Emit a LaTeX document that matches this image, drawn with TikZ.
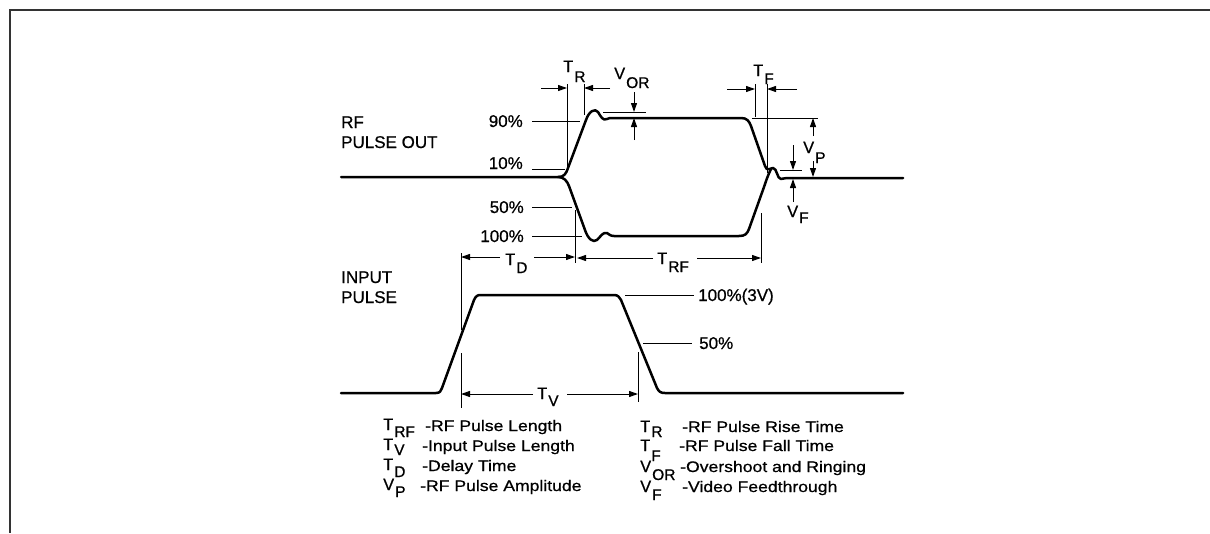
\documentclass[tikz,border=0pt]{standalone}
\usepackage{fontspec}
\setmainfont{Liberation Sans}[FakeBold=0.7]
\newfontfamily\legfont{Liberation Sans}[FakeStretch=1.15,FakeBold=0.7]
\usetikzlibrary{arrows.meta}
\newcommand\lsub[3][8]{#2\kern1pt\raisebox{-#1pt}{\fontsize{15.5}{15.5}\selectfont #3}}
\tikzset{
  frame/.style={line width=2pt, draw=black!80},
  wave/.style={line width=2.5pt, line join=round, line cap=round},
  dim/.style={line width=1pt},
  arr/.style={-{Triangle[length=9pt,width=6pt]}},
  lbl/.style={inner sep=0pt, font=\fontsize{17}{17}\selectfont},
  sym/.style={inner sep=0pt, font=\fontsize{16.5}{16.5}\selectfont},
  leg/.style={inner sep=0pt, font=\legfont\fontsize{15.3}{15.3}\selectfont},
}
\begin{document}
\begin{tikzpicture}[x=1pt,y=-1pt]
\useasboundingbox (0,0) rectangle (1210,533);
\draw[frame] (1210,10) -- (9.5,10) -- (9.5,533);

% ---------- RF pulse out ----------
\draw[wave] (341,177) -- (558,177) .. controls (564,177) and (566,174) .. (568,168)
  -- (586,120) .. controls (589,111) and (595,108) .. (598,112)
  .. controls (601,117) and (603,121) .. (607,119)
  .. controls (609,118) and (610,118) .. (613,118) -- (741,118)
  .. controls (747,118) and (749,121) .. (751,126) -- (765,166)
  .. controls (767,172) and (770,168) .. (773,168)
  .. controls (777,168) and (777,179) .. (781,179)
  .. controls (783,179) and (784,178) .. (787,178) -- (903,178);
\draw[wave] (558,177) .. controls (564,177) and (567,181) .. (569,186)
  -- (585,230) .. controls (588,239) and (593,243) .. (597,240)
  .. controls (601,236) and (603,232) .. (607,233)
  .. controls (609,234) and (610,236) .. (614,236) -- (739,236)
  .. controls (745,236) and (747,234) .. (749,229) -- (764,187)
  .. controls (766,181) and (768,175) .. (771,169);

\node[lbl, anchor=base west] (rf1) at (341,128) {RF};
\node[lbl, anchor=base west] (rf2) at (341,148) {PULSE OUT};
\node[lbl, anchor=base east] (p90) at (523,127) {90\%};
\node[lbl, anchor=base east] (p10) at (523,169) {10\%};
\node[lbl, anchor=base east] (p50) at (524,213) {50\%};
\node[lbl, anchor=base east] (p100) at (524,242) {100\%};
\coordinate (l90a) at (532,121); \coordinate (l90b) at (580,121);
\coordinate (l10a) at (532,169); \coordinate (l10b) at (565,169);
\coordinate (l50a) at (532,207); \coordinate (l50b) at (572,207);
\coordinate (l100a) at (532,236); \coordinate (l100b) at (582,236);
\draw[dim] (l90a) -- (l90b);
\draw[dim] (l10a) -- (l10b);
\draw[dim] (l50a) -- (l50b);
\draw[dim] (l100a) -- (l100b);

% T_R
\coordinate (trL) at (567,88); \coordinate (trR) at (584,88);
\draw[dim] (567,84) -- (567,167);
\draw[dim] (584,84) -- (584,115);
\draw[dim,arr] (541,88) -- (trL);
\draw[dim,arr] (610,88) -- (trR);
\node[sym, anchor=base west] (tr) at (563,72) {\lsub[10]{T}{R}};
% V_OR
\coordinate (vorT) at (634,112); \coordinate (vorB) at (634,118);
\draw[dim] (603,112) -- (646,112);
\draw[dim,arr] (634,92) -- (vorT);
\draw[dim,arr] (634,140) -- (vorB);
\node[sym, anchor=base west] (vor) at (614,79) {\lsub[9]{V}{OR}};
% T_F
\coordinate (tfL) at (755,89); \coordinate (tfR) at (767,89);
\draw[dim] (755,84) -- (755,117);
\draw[dim] (767,84) -- (767,173);
\draw[dim,arr] (727,89) -- (tfL);
\draw[dim,arr] (797,89) -- (tfR);
\node[sym, anchor=base west] (tf) at (753,76) {\lsub[8]{T}{F}};
% V_P
\draw[dim] (752,118) -- (818,118);
\coordinate (vpT) at (813,118); \coordinate (vpB) at (813,177);
\node[sym, anchor=base west] (vp) at (803,153) {\lsub[10]{V}{P}};
\draw[dim,arr] (813,136) -- (vpT);
\draw[dim,arr] (813,161) -- (vpB);
% V_F
\draw[dim] (780,170) -- (802,170);
\coordinate (vfT) at (793,170); \coordinate (vfB) at (793,179);
\draw[dim,arr] (793,145) -- (vfT);
\draw[dim,arr] (793,202) -- (vfB);
\node[sym, anchor=base west] (vf) at (787,217) {\lsub[6]{V}{F}};

% T_D and T_RF
\draw[dim] (461,253) -- (461,330);
\draw[dim] (575,210) -- (575,263);
\draw[dim] (761,213) -- (761,263);
\coordinate (tdL) at (461,257); \coordinate (tdR) at (575,257);
\coordinate (trfL) at (577,258); \coordinate (trfR) at (761,258);
\node[sym, anchor=base west] (td) at (505,265) {\lsub{T}{D}};
\draw[dim,arr] (500,257) -- (tdL);
\draw[dim,arr] (534,257) -- (tdR);
\node[sym, anchor=base west] (trf) at (657,264) {\lsub{T}{RF}};
\draw[dim,arr] (653,258) -- (trfL);
\draw[dim,arr] (697,258) -- (trfR);

% ---------- input pulse ----------
\draw[wave] (341,393) -- (436,393) .. controls (440,393) and (441,391) .. (442,388)
  -- (474,300) .. controls (476,296) and (477,295) .. (481,295) -- (614,295)
  .. controls (618,295) and (619,297) .. (621,300) -- (657,388)
  .. controls (659,392) and (661,393) .. (665,393) -- (903,393);
\node[lbl, anchor=base west] (in1) at (341,283) {INPUT};
\node[lbl, anchor=base west] (in2) at (341,303) {PULSE};
\node[lbl, anchor=base west] (q100) at (698,301) {100\%(3V)};
\node[lbl, anchor=base west] (q50) at (699,349) {50\%};
\coordinate (k100a) at (625,295); \coordinate (k100b) at (694,295);
\coordinate (k50a) at (643,343); \coordinate (k50b) at (692,343);
\draw[dim] (k100a) -- (k100b);
\draw[dim] (k50a) -- (k50b);

% T_V
\draw[dim] (461,353) -- (461,408);
\draw[dim] (638,352) -- (638,402);
\coordinate (tvL) at (461,394); \coordinate (tvR) at (638,394);
\node[sym, anchor=base west] (tv) at (537,399) {\lsub[7]{T}{V}};
\draw[dim,arr] (533,394) -- (tvL);
\draw[dim,arr] (567,394) -- (tvR);

% ---------- legend ----------
\node[sym, anchor=base west] (s1) at (383,430) {\lsub[7]{T}{RF}};
\node[leg, anchor=base west] (d1) at (425,431) {-RF Pulse Length};
\node[sym, anchor=base west] (s2) at (383,450) {\lsub[5]{T}{V}};
\node[leg, anchor=base west] (d2) at (422,451) {-Input Pulse Length};
\node[sym, anchor=base west] (s3) at (383,470) {\lsub[7]{T}{D}};
\node[leg, anchor=base west] (d3) at (422,471) {-Delay Time};
\node[sym, anchor=base west] (s4) at (383,490) {\lsub[7]{V}{P}};
\node[leg, anchor=base west] (d4) at (420,491) {-RF Pulse Amplitude};

\node[sym, anchor=base west] (s5) at (640,432) {\lsub[5]{T}{R}};
\node[leg, anchor=base west] (d5) at (682,432) {-RF Pulse Rise Time};
\node[sym, anchor=base west] (s6) at (640,451) {\lsub[10]{T}{F}};
\node[leg, anchor=base west] (d6) at (679,451) {-RF Pulse Fall Time};
\node[sym, anchor=base west] (s7) at (640,472) {\lsub[8]{V}{OR}};
\node[leg, anchor=base west] (d7) at (680,472) {-Overshoot and Ringing};
\node[sym, anchor=base west] (s8) at (640,492) {\lsub[8]{V}{F}};
\node[leg, anchor=base west] (d8) at (682,492) {-Video Feedthrough};
\end{tikzpicture}
\end{document}
